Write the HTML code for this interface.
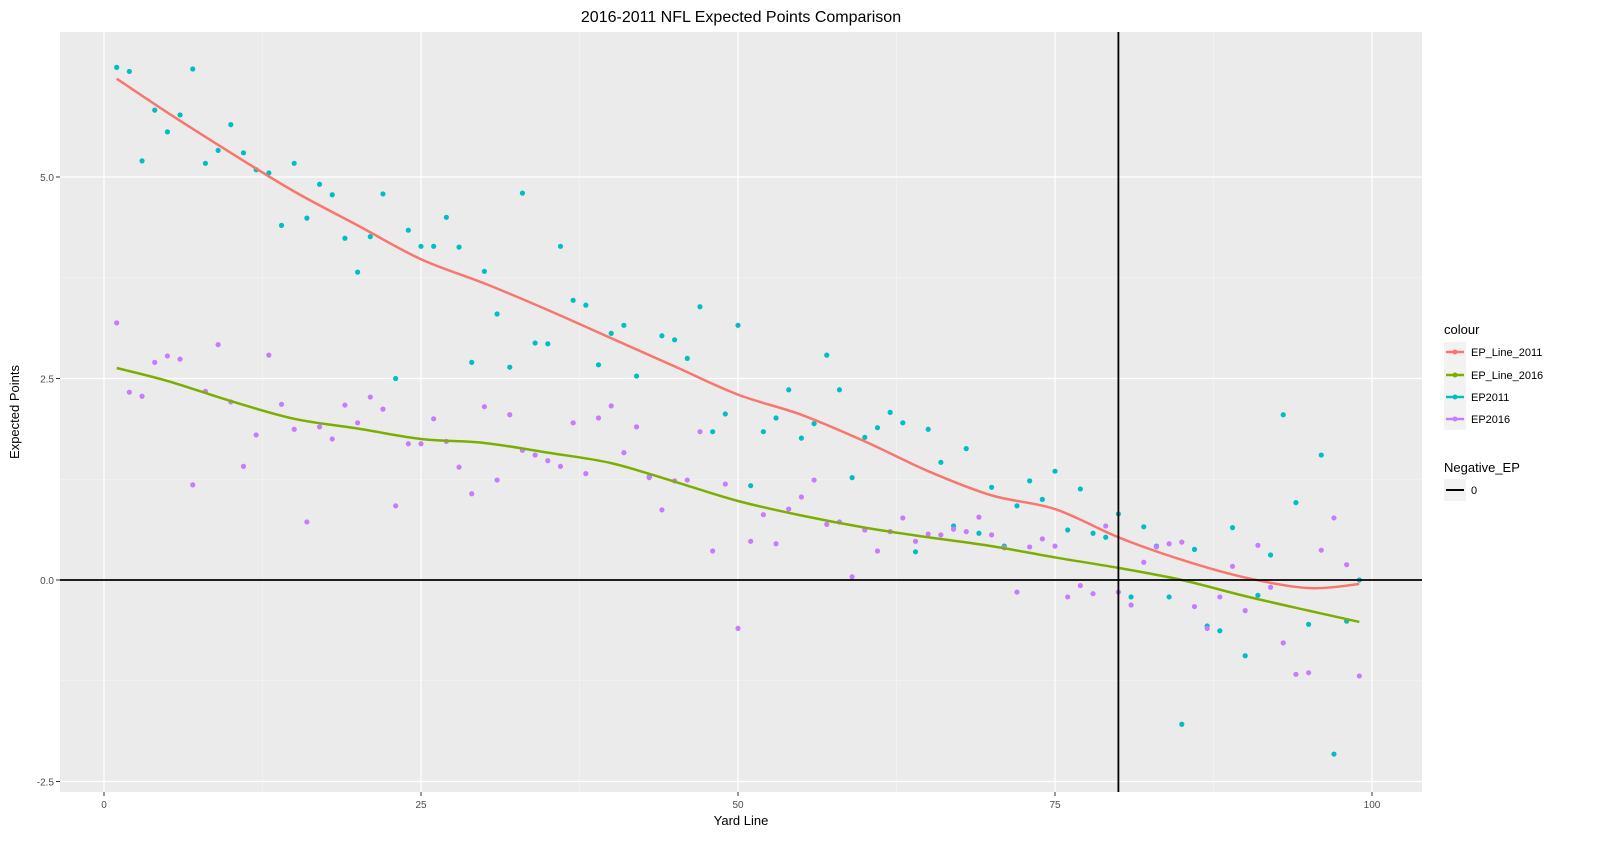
<!DOCTYPE html>
<html><head><meta charset="utf-8"><style>
body{margin:0;background:#fff;font-family:"Liberation Sans",sans-serif}
svg text{font-family:"Liberation Sans",sans-serif}
</style></head><body>
<svg id="chart" width="1600" height="849" xmlns="http://www.w3.org/2000/svg">
<rect width="1600" height="849" fill="#fff"/>
<text x="741" y="22" font-size="16" text-anchor="middle" fill="#000">2016-2011 NFL Expected Points Comparison</text>
<rect x="60" y="32" width="1362" height="760" fill="#ebebeb"/>
<g id="grid"></g>
<g id="marks"></g>
<g id="axes"></g>
<text x="741" y="825" font-size="13" text-anchor="middle">Yard Line</text>
<text transform="translate(19,412) rotate(-90)" font-size="13" text-anchor="middle">Expected Points</text>
<g>
<text x="1444" y="334" font-size="13">colour</text>
<rect x="1444" y="342" width="22" height="88" fill="#f2f2f2"/>
<g><line x1="1446" y1="352" x2="1464" y2="352" stroke="#f8766d" stroke-width="2.5"/><circle cx="1455" cy="352" r="2.5" fill="#f8766d"/><text x="1471" y="356" font-size="11">EP_Line_2011</text></g>
<g><line x1="1446" y1="375" x2="1464" y2="375" stroke="#7cae00" stroke-width="2.5"/><circle cx="1455" cy="375" r="2.5" fill="#7cae00"/><text x="1471" y="379" font-size="11">EP_Line_2016</text></g>
<g><line x1="1446" y1="397" x2="1464" y2="397" stroke="#00bfc4" stroke-width="2.5"/><circle cx="1455" cy="397" r="2.5" fill="#00bfc4"/><text x="1471" y="401" font-size="11">EP2011</text></g>
<g><line x1="1446" y1="419" x2="1464" y2="419" stroke="#c77cff" stroke-width="2.5"/><circle cx="1455" cy="419" r="2.5" fill="#c77cff"/><text x="1471" y="423" font-size="11">EP2016</text></g>
<text x="1444" y="472" font-size="13">Negative_EP</text>
<rect x="1444" y="479" width="22" height="22" fill="#f2f2f2"/>
<g><line x1="1446" y1="490" x2="1464" y2="490" stroke="#000" stroke-width="2"/><text x="1471" y="494" font-size="11">0</text></g>
</g>
</svg>
<script>
const yards=Array.from({length:99},(_,i)=>i+1);
const ep2011=[6.36,6.31,5.2,5.83,5.56,5.77,6.34,5.17,5.33,5.65,5.3,5.09,5.05,4.4,5.17,4.49,4.91,4.78,4.24,3.82,4.26,4.79,2.5,4.34,4.14,4.14,4.5,4.13,2.7,3.83,3.3,2.64,4.8,2.94,2.93,4.14,3.47,3.41,2.67,3.06,3.16,2.53,1.28,3.03,2.98,2.75,3.39,1.84,2.06,3.16,1.17,1.84,2.01,2.36,1.76,1.94,2.79,2.36,1.27,1.77,1.89,2.08,1.95,0.35,1.87,1.46,0.67,1.63,0.58,1.15,0.42,0.92,1.23,1.0,1.35,0.62,1.13,0.58,0.53,0.82,-0.21,0.66,0.42,-0.21,-1.79,0.38,-0.57,-0.63,0.65,-0.94,-0.19,0.31,2.05,0.96,-0.55,1.55,-2.16,-0.51,0.0];
const ep2016=[3.19,2.33,2.28,2.7,2.78,2.74,1.18,2.34,2.92,2.21,1.41,1.8,2.79,2.18,1.87,0.72,1.9,1.75,2.17,1.95,2.27,2.12,0.92,1.69,1.69,2.0,1.72,1.4,1.07,2.15,1.24,2.05,1.61,1.55,1.48,1.41,1.95,1.32,2.01,2.16,1.58,1.9,1.27,0.87,1.23,1.24,1.84,0.36,1.19,-0.6,0.48,0.81,0.45,0.88,1.03,1.24,0.69,0.72,0.04,0.62,0.36,0.6,0.77,0.48,0.57,0.56,0.63,0.6,0.78,0.56,0.4,-0.15,0.41,0.51,0.42,-0.21,-0.07,-0.17,0.67,-0.15,-0.31,0.22,0.41,0.45,0.47,-0.33,-0.6,-0.21,0.17,-0.38,0.43,-0.09,-0.78,-1.17,-1.15,0.37,0.77,0.19,-1.19];
const lineX=[1,5,10,15,20,25,30,35,40,45,50,55,60,65,70,75,80,85,90,95,99];
const line2011=[6.22,5.8,5.3,4.82,4.4,3.98,3.68,3.35,3.0,2.65,2.3,2.05,1.72,1.35,1.05,0.88,0.53,0.25,0.03,-0.1,-0.05];
const line2016=[2.63,2.47,2.22,2.0,1.88,1.75,1.7,1.58,1.45,1.22,0.98,0.8,0.65,0.53,0.42,0.28,0.15,0.0,-0.2,-0.38,-0.52];
const xTicks=[0,25,50,75,100];
const yTicks=[-2.5,0,2.5,5];
const NS='http://www.w3.org/2000/svg';
const X=v=>104+v*12.68, Y=v=>580-v*80.6;
function mk(parent,tag,attrs){const e=document.createElementNS(NS,tag);for(const k in attrs)e.setAttribute(k,attrs[k]);parent.appendChild(e);return e;}
const grid=document.getElementById('grid'),marks=document.getElementById('marks'),axes=document.getElementById('axes');
// minor grid
for(let i=0;i<xTicks.length-1;i++){const m=(xTicks[i]+xTicks[i+1])/2;const l=mk(grid,'line',{x1:X(m),x2:X(m),y1:32,y2:792,stroke:'#f5f5f5','stroke-width':0.6});

}
{const l=mk(grid,'line',{x1:X(-12.5),x2:X(-12.5),y1:32,y2:792,stroke:'#f5f5f5'});}
for(let i=0;i<yTicks.length-1;i++){const m=(yTicks[i]+yTicks[i+1])/2;const l=mk(grid,'line',{x1:60,x2:1422,y1:Y(m),y2:Y(m),stroke:'#f5f5f5','stroke-width':0.6});

}
xTicks.forEach(t=>{const l=mk(grid,'line',{x1:X(t),x2:X(t),y1:32,y2:792,stroke:'#fff','stroke-width':1.2});


mk(axes,'line',{x1:X(t),x2:X(t),y1:792,y2:796,stroke:'#333'});
const tx=mk(axes,'text',{x:X(t),y:808,'font-size':10,'text-anchor':'middle',fill:'#4d4d4d'});tx.textContent=t;

});
yTicks.forEach(t=>{const l=mk(grid,'line',{x1:60,x2:1422,y1:Y(t),y2:Y(t),stroke:'#fff','stroke-width':1.2});


mk(axes,'line',{x1:56,x2:60,y1:Y(t),y2:Y(t),stroke:'#333'});
const tx=mk(axes,'text',{x:54,y:Y(t)+4,'font-size':10,'text-anchor':'end',fill:'#4d4d4d'});tx.textContent=t.toFixed(1);

});
yards.forEach((x,i)=>{const c=mk(marks,'circle',{cx:X(x),cy:Y(ep2011[i]),r:2.6,fill:'#00bfc4'});

});
yards.forEach((x,i)=>{const c=mk(marks,'circle',{cx:X(x),cy:Y(ep2016[i]),r:2.6,fill:'#c77cff'});

});
function smooth(xs,ys){const p=xs.map((x,i)=>[X(x),Y(ys[i])]);let d='M'+p[0][0]+','+p[0][1];
for(let i=0;i<p.length-1;i++){const p0=p[i-1]||p[i],p1=p[i],p2=p[i+1],p3=p[i+2]||p2;
d+=' C'+(p1[0]+(p2[0]-p0[0])/6)+','+(p1[1]+(p2[1]-p0[1])/6)+' '+(p2[0]-(p3[0]-p1[0])/6)+','+(p2[1]-(p3[1]-p1[1])/6)+' '+p2[0]+','+p2[1];}return d;}
const l1=mk(marks,'path',{d:smooth(lineX,line2011),fill:'none',stroke:'#f8766d','stroke-width':2.5});


const l2=mk(marks,'path',{d:smooth(lineX,line2016),fill:'none',stroke:'#7cae00','stroke-width':2.5});


const h=mk(marks,'line',{x1:60,x2:1422,y1:Y(0),y2:Y(0),stroke:'#000','stroke-width':1.8});


const v=mk(marks,'line',{x1:X(80),x2:X(80),y1:32,y2:792,stroke:'#000','stroke-width':1.8});


</script>
</body></html>
